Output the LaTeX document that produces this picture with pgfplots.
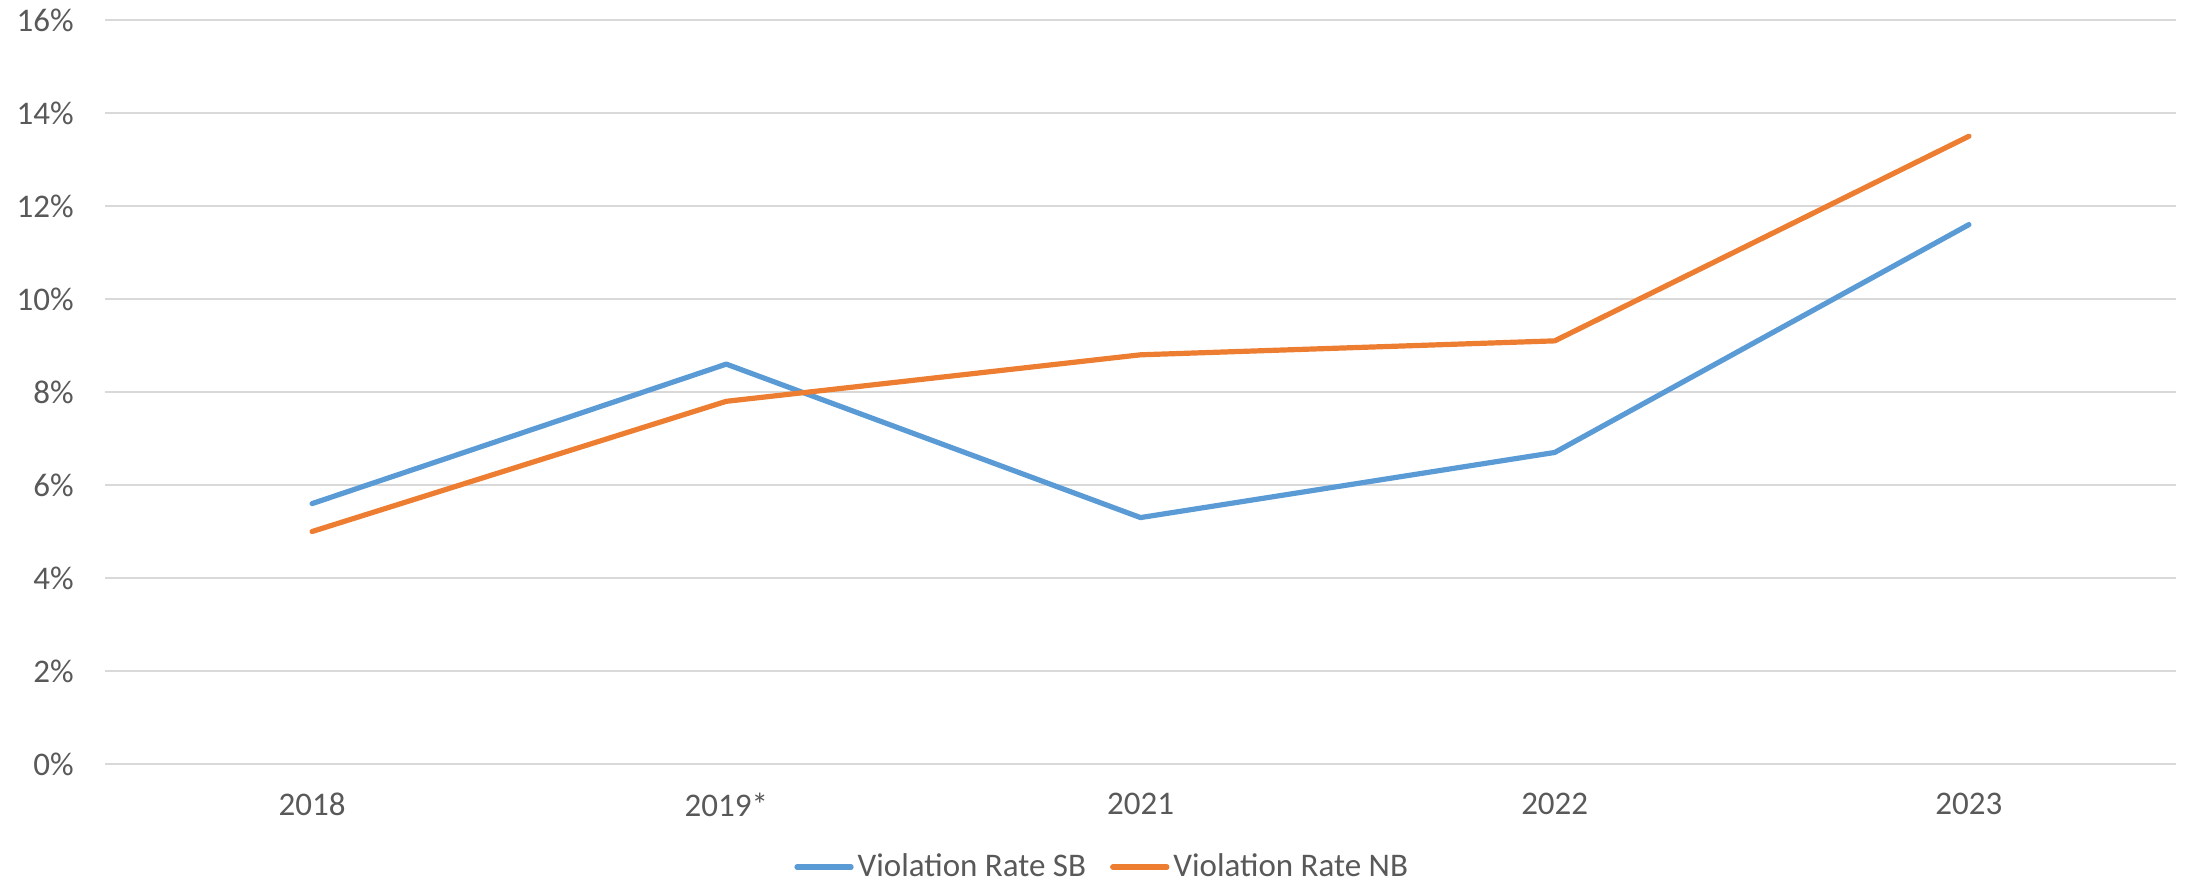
\documentclass[border=0pt]{standalone}
\usepackage{fontspec}
\setmainfont{Carlito}
\usepackage{pgfplots}
\pgfplotsset{compat=1.18}
\definecolor{sbblue}{HTML}{5B9BD5}
\definecolor{nborange}{HTML}{ED7D31}
\definecolor{gridgray}{HTML}{D9D9D9}
\definecolor{txtgray}{HTML}{595959}
\begin{document}
\fontsize{16.5}{20}\selectfont
\begin{tikzpicture}
\begin{axis}[
  name=ax,
  scale only axis,
  width=1035.5pt, height=372pt,
  xmin=-0.5, xmax=4.5,
  ymin=0, ymax=16,
  xtick={0,1,2,3,4},
  xticklabels={2018,2019*,2021,2022,2023},
  ytick={0,2,4,6,8,10,12,14,16},
  yticklabel={\pgfmathprintnumber{\tick}\%},
  /pgf/number format/assume math mode=true,
  tick style={draw=none},
  axis line style={draw=none},
  ymajorgrids,
  grid style={gridgray, line width=1pt},
  every tick label/.append style={font=\fontsize{16.5}{20}\selectfont, text=txtgray},
  yticklabel style={anchor=east, xshift=-10pt},
  xticklabel style={anchor=north, yshift=-9pt},
  legend style={at={(0.482,-0.1385)}, anchor=center, draw=none, legend columns=2,
    font=\fontsize{16.5}{20}\selectfont, text=txtgray,
    /tikz/every even column/.append style={column sep=10pt}},
  legend image code/.code={\draw[#1] (0cm,0cm) -- (0.95cm,0cm);},
  legend cell align=left,
]
\addplot[sbblue, line width=2.6pt, line cap=round, line join=round] coordinates {(0,5.6) (1,8.6) (2,5.3) (3,6.7) (4,11.6)};
\addlegendentry{Violation Rate SB}
\addplot[nborange, line width=2.6pt, line cap=round, line join=round] coordinates {(0,5.0) (1,7.8) (2,8.8) (3,9.1) (4,13.5)};
\addlegendentry{Violation Rate NB}
\end{axis}
\pgfresetboundingbox
\path[use as bounding box] ([xshift=-52.5pt,yshift=-60pt]ax.south west) rectangle ([xshift=7pt,yshift=10pt]ax.north east);
\end{tikzpicture}
\end{document}
